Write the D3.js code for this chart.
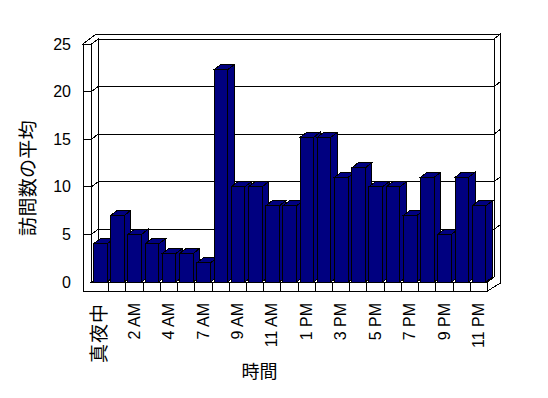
<!DOCTYPE html>
<html><head><meta charset="utf-8">
<script src="https://cdn.jsdelivr.net/npm/d3@7"></script>
<style>html,body{margin:0;padding:0;background:#fff;}svg{display:block;}</style>
</head><body>
<script>
// ---- data ----
const categories = ["真夜中","1 AM","2 AM","3 AM","4 AM","6 AM","7 AM","8 AM","9 AM","10 AM","11 AM","正午",
  "1 PM","2 PM","3 PM","4 PM","5 PM","6 PM","7 PM","8 PM","9 PM","10 PM","11 PM"];
const values = [4,7,5,4,3,3,2,22.3,10,10,8,8,15.2,15.2,11,12,10,10,7,11,5,11,8];
const yTickValues = [0,5,10,15,20,25];
const yTitle = "訪問数の平均";
const xTitle = "時間";

// ---- layout ----
const W = 548, H = 398;
const DX = 6.5, DY = -5;          // depth offset
const floorBottom = 291, wallLeft = 83;
const svg = d3.select("body").append("svg").attr("width", W).attr("height", H)
  .style("background", "#fff");

const x = d3.scaleBand().domain(categories).range([91.5, 487.5]);
const y = d3.scaleLinear().domain([0, 25]).range([282, 44]);
const x0 = x.range()[0], x1 = x.range()[1], y0 = y(0), yTop = y(25);

const latin = "'Liberation Sans', Arial, sans-serif";
const cjk = "'Noto Sans CJK JP', sans-serif";
const isCJK = s => /[^\x00-\x7F]/.test(s);

const g = svg.append("g").attr("stroke", "#000").attr("stroke-width", 1)
  .attr("shape-rendering", "crispEdges");
const poly = pts => "M" + pts.map(p => p.join(",")).join("L") + "Z";
const white = (pts) => g.append("path").attr("d", poly(pts)).attr("fill", "#fff");

// top faces of walls
white([[wallLeft, yTop],[x0, yTop],[x0+DX, yTop+DY],[x1+DX, yTop+DY],[x1+2*DX, yTop+2*DY],[wallLeft+2*DX, yTop+2*DY]]);
// left wall front + floor front
white([[wallLeft, yTop],[x0, yTop],[x0, y0],[x1, y0],[x1, floorBottom],[wallLeft, floorBottom]]);
// left wall inner face
white([[x0, yTop],[x0+DX, yTop+DY],[x0+DX, y0+DY],[x0, y0]]);
// back wall
white([[x0+DX, yTop+DY],[x1+DX, yTop+DY],[x1+DX, y0+DY],[x0+DX, y0+DY]]);
// floor top
white([[x0, y0],[x1, y0],[x1+DX, y0+DY],[x0+DX, y0+DY]]);
// right side
white([[x1+DX, yTop+DY],[x1+2*DX, yTop+2*DY],[x1+2*DX, y0+1],[x1, floorBottom],[x1, y0],[x1+DX, y0+DY]]);

// gridlines
yTickValues.filter(v => v > 0).forEach(v => {
  const yy = y(v);
  g.append("path").attr("fill", "none")
    .attr("d", `M${wallLeft},${yy}L${x0},${yy}L${x0+DX},${yy+DY}L${x1+DX},${yy+DY}L${x1+2*DX},${yy+2*DY}`);
});
// floor ticks
categories.slice(1).forEach(c => {
  g.append("line").attr("x1", x(c)).attr("x2", x(c)).attr("y1", y0).attr("y2", floorBottom);
});

// bars
const bw = 13.6, off = 2;
const bars = g.append("g").attr("fill", "#000080");
categories.forEach((c, i) => {
  const bx = x(c) + off, yt = y(values[i]), yb = y0;
  bars.append("path").attr("d", poly([[bx+bw, yt],[bx+bw+DX, yt+DY],[bx+bw+DX, yb+DY],[bx+bw, yb]]));
  bars.append("path").attr("d", poly([[bx, yt],[bx+bw, yt],[bx+bw+DX, yt+DY],[bx+DX, yt+DY]]));
  bars.append("rect").attr("x", bx).attr("y", yt).attr("width", bw).attr("height", yb - yt);
});

// y tick labels
svg.append("g").selectAll("text").data(yTickValues).join("text")
  .attr("x", 71).attr("y", d => y(d)).attr("dy", "0.35em")
  .attr("text-anchor", "end").attr("font-family", latin).attr("font-size", 16)
  .text(d => d);

// x tick labels (every other)
svg.append("g").selectAll("text").data(categories.filter((c, i) => i % 2 === 0)).join("text")
  .attr("transform", d => `translate(${x(d) + x.bandwidth()/2 - 0.5},303) rotate(-90)`)
  .attr("dy", "0.35em").attr("text-anchor", "end")
  .attr("font-family", d => isCJK(d) ? cjk : latin)
  .attr("font-size", d => isCJK(d) ? 19 : 16)
  .attr("letter-spacing", d => isCJK(d) ? 1 : 0)
  .text(d => d);

// axis titles
svg.append("text").attr("transform", "translate(28,178) rotate(-90)")
  .attr("dy", "0.35em").attr("text-anchor", "middle")
  .attr("font-family", cjk).attr("font-size", 19).attr("letter-spacing", 0.3)
  .text(yTitle);
svg.append("text").attr("x", 259.5).attr("y", 372)
  .attr("dy", "0.35em").attr("text-anchor", "middle")
  .attr("font-family", cjk).attr("font-size", 18)
  .text(xTitle);
</script>
</body></html>
